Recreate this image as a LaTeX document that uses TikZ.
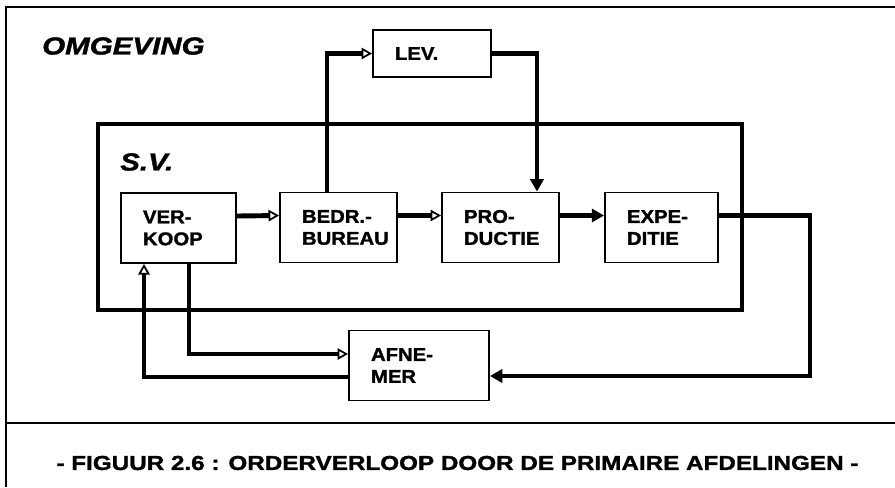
\documentclass[tikz,border=0pt]{standalone}
\usepackage{fontspec}
\setmainfont{Liberation Sans}[FakeStretch=1.2, BoldFeatures={FakeBold=1.5}, BoldItalicFeatures={FakeBold=1.5}]
\newfontfamily\deptfont{Liberation Sans}[FakeStretch=1.1, BoldFeatures={FakeBold=1.5}]
\usetikzlibrary{arrows.meta}

\begin{document}
\begin{tikzpicture}[
    x=0.02cm, y=-0.02cm,
    deptBox/.style={draw, line width=1.1pt, align=left, text width=#1, inner xsep=0.44cm, minimum height=1.4cm,
        font=\deptfont\bfseries\fontsize{10.5}{12.5}\selectfont},
    flowLine/.style={line width=2.8pt},
    openArr/.style={flowLine, -{Triangle[open, length=6pt, width=6.5pt, line width=1pt]}},
    fullArr/.style={flowLine, -{Triangle[length=7pt, width=7.5pt]}},
    frameLine/.style={line width=1.2pt},
    zoneLabel/.style={font=\bfseries\itshape\fontsize{14}{16}\selectfont, anchor=west}
]
    \useasboundingbox (0,0) rectangle (895,487);

    % Frame and zones
    \draw[frameLine] (895,7) -- (6,7) -- (6,487);
    \draw[frameLine] (6,423) -- (895,423);
    \draw[flowLine] (98,124) rectangle (742,310);

    \node[zoneLabel] (omgeving) at (36,46) {OMGEVING};
    \node[zoneLabel] (sv) at (114,162) {S.V.};

    % Departments
    \node[deptBox=1.42cm] (verkoop)   at (178.5,228)   {VER-\\KOOP\\[-6pt]};
    \node[deptBox=1.46cm] (bedr)      at (338.5,227.5) {\mbox{BEDR.-}\\\mbox{BUREAU}\\[-6pt]};
    \node[deptBox=1.46cm] (productie) at (500.5,227.5) {PRO-\\\mbox{DUCTIE}\\[-6pt]};
    \node[deptBox=1.38cm] (expeditie) at (661.5,227.5) {EXPE-\\DITIE\\[-6pt]};

    % Outside parties
    \node[deptBox=1.92cm] (afnemer) at (419,365.5) {AFNE-\\MER\\[-6pt]};
    \node[deptBox=1.48cm, minimum height=0.94cm] (lev) at (432,53.5) {LEV.\\[-6pt]};

    % Order flow
    \draw[openArr] ([yshift=0.24cm]verkoop.east) -- ([yshift=0.24cm]bedr.west);
    \draw[openArr] ([yshift=0.24cm]bedr.east) -- ([yshift=0.24cm]productie.west);
    \draw[fullArr] ([yshift=0.24cm]productie.east) -- ([yshift=0.24cm]expeditie.west);

    \draw[openArr] ([xshift=-0.23cm]bedr.north) |- (lev.west);
    \draw[fullArr] (lev.east) -| ([xshift=0.73cm]productie.north);

    \draw[fullArr] ([yshift=0.24cm]expeditie.east) -- ++(91,0) |- ([yshift=-0.21cm]afnemer.east);
    \draw[openArr] ([xshift=0.21cm]verkoop.south) |- ([yshift=0.23cm]afnemer.west);
    \draw[openArr] ([yshift=-0.23cm]afnemer.west) -| ([xshift=-0.69cm]verkoop.south);

    % Caption
    \node[font=\bfseries\fontsize{11.5}{14}\selectfont] (caption) at (457.5,463)
        {- FIGUUR 2.6 : ORDERVERLOOP DOOR DE PRIMAIRE AFDELINGEN -};
\end{tikzpicture}
\end{document}
